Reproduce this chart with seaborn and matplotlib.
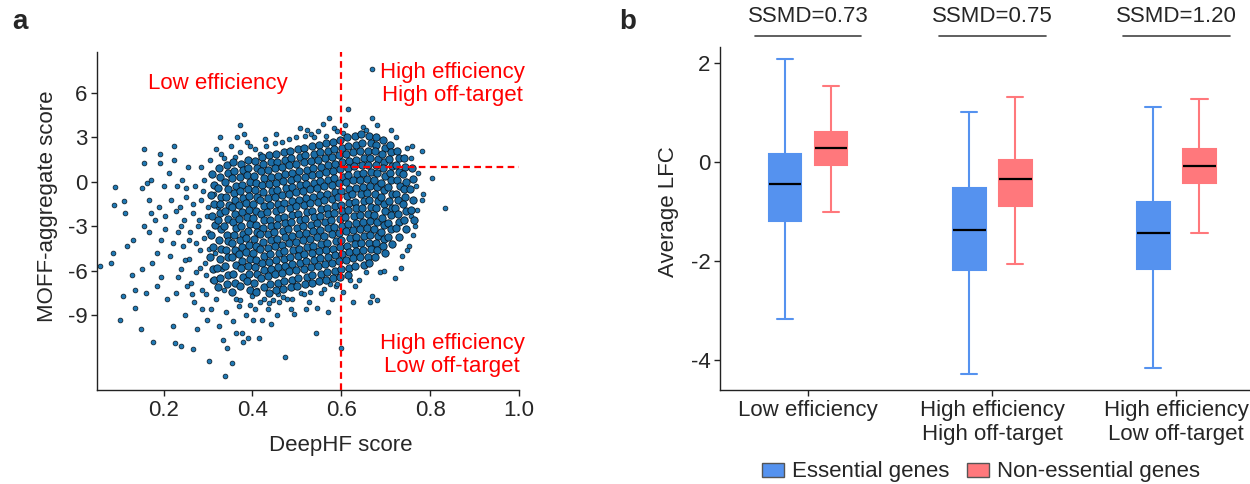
import numpy as np
import pandas as pd
import matplotlib
matplotlib.use("Agg")
import matplotlib.pyplot as plt
import matplotlib.transforms as mtransforms
from matplotlib.patches import Patch
import seaborn as sns

# ---------------- Panel a: scatter ----------------
# sparse outer points
outer_deephf = [
    0.057, 0.081, 0.087, 0.089, 0.091, 0.101, 0.108, 0.111, 0.113, 0.117,
    0.129, 0.131, 0.135, 0.135, 0.148, 0.152, 0.152, 0.155, 0.155, 0.156,
    0.160, 0.163, 0.166, 0.168, 0.171, 0.171, 0.174, 0.177, 0.181, 0.184,
    0.185, 0.190, 0.191, 0.192, 0.194, 0.194, 0.200, 0.202, 0.204, 0.208,
    0.212, 0.215, 0.216, 0.220, 0.223, 0.224, 0.226, 0.227, 0.230, 0.232,
    0.236, 0.239, 0.240, 0.242, 0.244, 0.246, 0.248, 0.250, 0.252, 0.255,
    0.258, 0.260, 0.265, 0.265, 0.269, 0.271, 0.273, 0.275, 0.277, 0.281,
    0.283, 0.285, 0.287, 0.290, 0.293, 0.297, 0.298, 0.301, 0.303, 0.305,
    0.307, 0.310, 0.313, 0.315, 0.319, 0.323, 0.325, 0.327, 0.329, 0.331,
    0.333, 0.335, 0.339, 0.341, 0.343, 0.347, 0.353, 0.357, 0.361, 0.364,
    0.365, 0.369, 0.373, 0.377, 0.379, 0.382, 0.385, 0.390, 0.394, 0.398,
    0.402, 0.406, 0.410, 0.415, 0.418, 0.422, 0.426, 0.430, 0.435, 0.442,
    0.446, 0.450, 0.455, 0.460, 0.466, 0.474, 0.478, 0.482, 0.486, 0.493,
    0.498, 0.506, 0.510, 0.519, 0.521, 0.523, 0.527, 0.531, 0.539, 0.543,
    0.545, 0.547, 0.555, 0.559, 0.565, 0.571, 0.573, 0.579, 0.583, 0.587,
    0.591, 0.599, 0.603, 0.615, 0.609, 0.627, 0.631, 0.648, 0.656, 0.665,
    0.668, 0.669, 0.669, 0.680, 0.680, 0.688, 0.696, 0.712, 0.720, 0.736,
    0.760, 0.781, 0.781, 0.785, 0.805, 0.833, 0.765, 0.773, 0.756, 0.735,
    0.752, 0.771, 0.722, 0.640, 0.604, 0.575, 0.516, 0.468, 0.418, 0.362,
    0.222, 0.228, 0.233, 0.238, 0.247, 0.251, 0.256, 0.262, 0.267, 0.272,
    0.279, 0.282, 0.288, 0.291, 0.295, 0.299, 0.302, 0.296, 0.286, 0.264,
    0.318, 0.336, 0.352, 0.371, 0.388, 0.405, 0.428, 0.452,
    0.372, 0.394, 0.437, 0.458, 0.489, 0.530, 0.560, 0.590, 0.620, 0.655,
    0.748, 0.757, 0.768, 0.762, 0.748,
]
outer_moff = [
    -5.7, -5.5, -4.8, -1.6, -0.36, -9.3, -7.7, -1.3, -2.1, -4.3,
    -6.3, -3.9, -7.3, -8.5, -9.9, -0.4, -5.9, 1.25, 2.2, -3.0,
    -7.5, -0.1, -1.2, -3.4, 0.1, -2.1, -5.5, -10.8, -2.6, -4.8,
    -7.0, -1.7, 1.25, 1.9, -3.9, -6.4, -0.3, -2.3, -3.2, -7.9,
    0.6, -5.0, -1.2, -9.7, 1.5, 2.4, -10.9, -7.5, -0.3, -3.4,
    -1.7, -5.9, -11.1, 0.13, -4.3, -2.6, -9.0, -1.0, -7.0, 1.0,
    -5.2, -3.4, -11.3, -2.1, -8.1, -0.3, -6.1, -9.9, -3.0, -4.6,
    1.0, -1.2, -7.3, 0.13, -5.5, -9.3, -2.3, -3.4, -12.1, 1.5,
    -8.6, -6.6, -0.8, -4.8, -7.9, -1.7, -9.7, 3.05, 1.9, -5.9,
    -10.7, -7.3, -13.1, -8.8, -11.2, 0.6, -12.2, -9.4, 1.7, -10.2,
    3.05, -8.4, 3.8, -10.2, -10.8, 3.2, -9.0, -10.5, 2.4, -7.7,
    -9.3, -8.6, -7.3, -10.5, 1.9, -9.3, -7.9, 2.4, -8.6, -9.6,
    -8.0, 2.6, -9.0, -8.1, 2.7, -11.8, -7.9, 2.9, -8.6, -8.9,
    3.0, 3.6, -7.5, 3.1, -8.6, 3.5, -8.1, 3.2, 3.0, -10.2,
    -8.5, 3.4, -7.5, 3.9, 3.1, -8.8, 4.3, -7.9, 3.6, -7.0,
    3.4, -11.2, 3.3, 4.9, 3.8, -8.1, -7.0, 3.7, 3.5, -8.1,
    -7.7, 4.3, 7.6, -8.0, 3.8, -6.1, -6.0, 3.5, -6.5, -5.0,
    2.4, 2.1, -1.2, -0.8, 0.25, -1.8, -3.0, 0.6, -2.3, -5.8,
    -4.3, -1.9, 3.0, -6.6, -7.4, -6.9, -7.6, -7.8, -8.1, -7.9,
    -4.1, -2.0, -6.4, -3.0, -5.3, -0.4, -3.9, -6.8, -1.5, -4.1,
    -2.6, -5.8, -0.6, -3.8, -6.3, -1.7, -4.5, -7.6, -8.6, -7.6,
    2.2, 1.6, 2.4, 2.0, 2.7, 2.2, 2.9, 3.2,
    -8.0, -8.3, -8.2, -7.6, -7.9, -7.4, -7.2, -6.9, -6.6, -6.1,
    2.3, 1.6, -0.3, -3.6, -4.6,
]
# dense core, column by column
core_deephf = [
    0.310, 0.314, 0.307, 0.313, 0.309, 0.315, 0.306, 0.312, 0.305, 0.311, 0.314,
    0.325, 0.327, 0.323, 0.330, 0.326, 0.328, 0.322, 0.329, 0.324, 0.330, 0.327, 0.321, 0.328, 0.322,
    0.342, 0.346, 0.339, 0.345, 0.341, 0.347, 0.338, 0.344, 0.337, 0.343, 0.346, 0.340, 0.345, 0.338, 0.344, 0.342,
    0.357, 0.359, 0.355, 0.362, 0.358, 0.360, 0.354, 0.361, 0.356, 0.362, 0.359, 0.353, 0.360, 0.354, 0.363, 0.357, 0.361, 0.355,
    0.374, 0.378, 0.371, 0.377, 0.373, 0.379, 0.370, 0.376, 0.369, 0.375, 0.378, 0.372, 0.377, 0.370, 0.376, 0.374, 0.378, 0.371,
    0.389, 0.391, 0.387, 0.394, 0.390, 0.392, 0.386, 0.393, 0.388, 0.394, 0.391, 0.385, 0.392, 0.386, 0.395, 0.389, 0.393, 0.387, 0.394,
    0.406, 0.410, 0.403, 0.409, 0.405, 0.411, 0.402, 0.408, 0.401, 0.407, 0.410, 0.404, 0.409, 0.402, 0.408, 0.406, 0.410, 0.403, 0.407,
    0.421, 0.423, 0.419, 0.426, 0.422, 0.424, 0.418, 0.425, 0.420, 0.426, 0.423, 0.417, 0.424, 0.418, 0.427, 0.421, 0.425, 0.419, 0.426,
    0.438, 0.442, 0.435, 0.441, 0.437, 0.443, 0.434, 0.440, 0.433, 0.439, 0.442, 0.436, 0.441, 0.434, 0.440, 0.438, 0.442, 0.435, 0.439, 0.437,
    0.453, 0.455, 0.451, 0.458, 0.454, 0.456, 0.450, 0.457, 0.452, 0.458, 0.455, 0.449, 0.456, 0.450, 0.459, 0.453, 0.457, 0.451, 0.458, 0.454,
    0.470, 0.474, 0.467, 0.473, 0.469, 0.475, 0.466, 0.472, 0.465, 0.471, 0.474, 0.468, 0.473, 0.466, 0.472, 0.470, 0.474, 0.467, 0.471, 0.469,
    0.485, 0.487, 0.483, 0.490, 0.486, 0.488, 0.482, 0.489, 0.484, 0.490, 0.487, 0.481, 0.488, 0.482, 0.491, 0.485, 0.489, 0.483, 0.490, 0.486,
    0.502, 0.506, 0.499, 0.505, 0.501, 0.507, 0.498, 0.504, 0.497, 0.503, 0.506, 0.500, 0.505, 0.498, 0.504, 0.502, 0.506, 0.499, 0.503, 0.501,
    0.517, 0.519, 0.515, 0.522, 0.518, 0.520, 0.514, 0.521, 0.516, 0.522, 0.519, 0.513, 0.520, 0.514, 0.523, 0.517, 0.521, 0.515, 0.522, 0.518,
    0.534, 0.538, 0.531, 0.537, 0.533, 0.539, 0.530, 0.536, 0.529, 0.535, 0.538, 0.532, 0.537, 0.530, 0.536, 0.534, 0.538, 0.531, 0.535, 0.533,
    0.549, 0.551, 0.547, 0.554, 0.550, 0.552, 0.546, 0.553, 0.548, 0.554, 0.551, 0.545, 0.552, 0.546, 0.555, 0.549, 0.553, 0.547, 0.554, 0.550,
    0.566, 0.570, 0.563, 0.569, 0.565, 0.571, 0.562, 0.568, 0.561, 0.567, 0.570, 0.564, 0.569, 0.562, 0.568, 0.566, 0.570, 0.563, 0.567, 0.565,
    0.581, 0.583, 0.579, 0.586, 0.582, 0.584, 0.578, 0.585, 0.580, 0.586, 0.583, 0.577, 0.584, 0.578, 0.587, 0.581, 0.585, 0.579, 0.586, 0.582,
    0.598, 0.602, 0.595, 0.601, 0.597, 0.603, 0.594, 0.600, 0.593, 0.599, 0.602, 0.596, 0.601, 0.594, 0.600, 0.598, 0.602, 0.595, 0.599, 0.597,
    0.613, 0.615, 0.611, 0.618, 0.614, 0.616, 0.610, 0.617, 0.612, 0.618, 0.615, 0.609, 0.616, 0.610, 0.619, 0.613, 0.617, 0.611, 0.618, 0.614,
    0.630, 0.634, 0.627, 0.633, 0.629, 0.635, 0.626, 0.632, 0.625, 0.631, 0.634, 0.628, 0.633, 0.626, 0.632, 0.630, 0.634, 0.627, 0.631,
    0.645, 0.647, 0.643, 0.650, 0.646, 0.648, 0.642, 0.649, 0.644, 0.650, 0.647, 0.641, 0.648, 0.642, 0.651, 0.645, 0.649, 0.643, 0.650,
    0.662, 0.666, 0.659, 0.665, 0.661, 0.667, 0.658, 0.664, 0.657, 0.663, 0.666, 0.660, 0.665, 0.658, 0.664, 0.662, 0.666, 0.659, 0.663,
    0.677, 0.679, 0.675, 0.682, 0.678, 0.680, 0.674, 0.681, 0.676, 0.682, 0.679, 0.673, 0.680, 0.674, 0.683, 0.677, 0.681, 0.675,
    0.694, 0.698, 0.691, 0.697, 0.693, 0.699, 0.690, 0.696, 0.689, 0.695, 0.698, 0.692, 0.697, 0.690, 0.696, 0.694, 0.698,
    0.709, 0.711, 0.707, 0.714, 0.710, 0.712, 0.706, 0.713, 0.708, 0.714, 0.711, 0.705, 0.712, 0.706, 0.715,
    0.726, 0.730, 0.723, 0.729, 0.725, 0.731, 0.722, 0.728, 0.721, 0.727, 0.730, 0.724, 0.729,
    0.741, 0.743, 0.739, 0.746, 0.742, 0.744, 0.738, 0.745, 0.740, 0.746,
    0.758, 0.762, 0.755, 0.761, 0.757, 0.763,
]
core_moff = [
    0.5, -0.2, -0.9, -1.5, -2.3, -2.9, -3.6, -4.4, -5.1, -5.9, -6.6,
    0.9, 0.3, -0.4, -1.0, -1.5, -2.1, -2.6, -3.2, -3.9, -4.5, -5.2, -5.8, -6.5, -7.1,
    1.1, 0.6, 0.0, -0.5, -1.0, -1.6, -2.0, -2.5, -3.0, -3.6, -4.0, -4.6, -5.1, -5.7, -6.3, -6.9,
    1.3, 0.7, 0.25, -0.3, -0.75, -1.2, -1.7, -2.2, -2.7, -3.15, -3.6, -4.1, -4.6, -5.1, -5.6, -6.2, -6.8, -7.4,
    1.2, 0.8, 0.3, -0.2, -0.65, -1.1, -1.6, -2.05, -2.5, -3.0, -3.5, -3.95, -4.4, -4.9, -5.35, -5.8, -6.4, -7.0,
    1.5, 0.95, 0.45, 0.0, -0.5, -0.95, -1.45, -1.9, -2.4, -2.85, -3.3, -3.8, -4.25, -4.75, -5.2, -5.7, -6.2, -6.7, -7.3,
    1.4, 0.9, 0.4, -0.05, -0.55, -1.0, -1.5, -1.95, -2.45, -2.9, -3.4, -3.85, -4.3, -4.8, -5.25, -5.75, -6.25, -6.8, -7.4,
    1.7, 1.2, 0.7, 0.25, -0.25, -0.7, -1.2, -1.65, -2.15, -2.6, -3.1, -3.55, -4.05, -4.5, -5.0, -5.45, -5.95, -6.5, -7.1,
    1.8, 1.3, 0.8, 0.3, -0.15, -0.65, -1.1, -1.6, -2.05, -2.55, -3.0, -3.5, -3.95, -4.45, -4.9, -5.4, -5.85, -6.35, -6.9, -7.5,
    1.9, 1.35, 0.9, 0.4, -0.05, -0.55, -1.0, -1.5, -1.95, -2.45, -2.9, -3.4, -3.85, -4.35, -4.8, -5.3, -5.75, -6.25, -6.8, -7.3,
    2.0, 1.5, 1.0, 0.5, 0.05, -0.45, -0.9, -1.4, -1.85, -2.35, -2.8, -3.3, -3.75, -4.25, -4.7, -5.2, -5.65, -6.15, -6.7, -7.2,
    2.1, 1.6, 1.1, 0.6, 0.15, -0.35, -0.8, -1.3, -1.75, -2.25, -2.7, -3.2, -3.65, -4.15, -4.6, -5.1, -5.55, -6.05, -6.6, -7.1,
    2.2, 1.7, 1.2, 0.7, 0.25, -0.25, -0.7, -1.2, -1.65, -2.15, -2.6, -3.1, -3.55, -4.05, -4.5, -5.0, -5.45, -5.95, -6.5, -7.0,
    2.3, 1.8, 1.3, 0.8, 0.35, -0.15, -0.6, -1.1, -1.55, -2.05, -2.5, -3.0, -3.45, -3.95, -4.4, -4.9, -5.35, -5.85, -6.4, -6.9,
    2.4, 1.9, 1.4, 0.9, 0.45, -0.05, -0.5, -1.0, -1.45, -1.95, -2.4, -2.9, -3.35, -3.85, -4.3, -4.8, -5.25, -5.75, -6.3, -6.8,
    2.5, 2.0, 1.5, 1.0, 0.55, 0.05, -0.4, -0.9, -1.35, -1.85, -2.3, -2.8, -3.25, -3.75, -4.2, -4.7, -5.15, -5.65, -6.2, -6.7,
    2.6, 2.1, 1.6, 1.1, 0.65, 0.15, -0.3, -0.8, -1.25, -1.75, -2.2, -2.7, -3.15, -3.65, -4.1, -4.6, -5.05, -5.55, -6.1, -6.6,
    2.7, 2.2, 1.7, 1.2, 0.75, 0.25, -0.2, -0.7, -1.15, -1.65, -2.1, -2.6, -3.05, -3.55, -4.0, -4.5, -4.95, -5.45, -6.0, -6.5,
    2.8, 2.3, 1.8, 1.3, 0.85, 0.35, -0.1, -0.6, -1.05, -1.55, -2.0, -2.5, -2.95, -3.45, -3.9, -4.4, -4.85, -5.35, -5.9, -6.4,
    3.0, 2.4, 1.9, 1.4, 0.95, 0.45, 0.0, -0.5, -0.95, -1.45, -1.9, -2.4, -2.85, -3.35, -3.8, -4.3, -4.75, -5.25, -5.8, -6.3,
    3.1, 2.5, 2.0, 1.5, 1.05, 0.55, 0.1, -0.4, -0.85, -1.35, -1.8, -2.3, -2.75, -3.25, -3.7, -4.2, -4.65, -5.15, -5.7,
    3.2, 2.6, 2.1, 1.6, 1.1, 0.6, 0.15, -0.35, -0.8, -1.3, -1.75, -2.25, -2.7, -3.2, -3.65, -4.15, -4.6, -5.1, -5.6,
    3.1, 2.6, 2.1, 1.6, 1.15, 0.65, 0.2, -0.3, -0.75, -1.25, -1.7, -2.2, -2.65, -3.15, -3.6, -4.1, -4.55, -5.05, -5.5,
    3.0, 2.5, 2.05, 1.55, 1.1, 0.6, 0.15, -0.35, -0.8, -1.3, -1.75, -2.25, -2.7, -3.2, -3.65, -4.15, -4.6, -5.1,
    2.8, 2.3, 1.85, 1.35, 0.9, 0.4, -0.05, -0.55, -1.0, -1.5, -1.95, -2.45, -2.9, -3.4, -3.85, -4.35, -4.8,
    2.5, 2.0, 1.55, 1.05, 0.6, 0.1, -0.35, -0.85, -1.3, -1.8, -2.25, -2.75, -3.2, -3.7, -4.2,
    2.1, 1.6, 1.1, 0.65, 0.15, -0.3, -0.8, -1.25, -1.75, -2.2, -2.7, -3.15, -3.7,
    1.6, 1.0, 0.5, 0.0, -0.5, -1.0, -1.5, -2.0, -2.6, -3.2,
    0.9, 0.2, -0.5, -1.2, -1.9, -2.6,
]
assert len(outer_deephf) == len(outer_moff), (len(outer_deephf), len(outer_moff))
assert len(core_deephf) == len(core_moff)

deephf_cutoff = 0.6
moff_cutoff = 1.0
scatter_xticks = [0.2, 0.4, 0.6, 0.8, 1.0]
scatter_yticks = [6, 3, 0, -3, -6, -9]

# ---------------- Panel b: box plots (five-number summaries) ----------------
categories = ["Low efficiency",
              "High efficiency\nHigh off-target",
              "High efficiency\nLow off-target"]
gene_sets = ["Essential genes", "Non-essential genes"]
# lower whisker, Q1, median, Q3, upper whisker
essential_stats = [[-3.17, -1.19, -0.44, 0.16, 2.08],
                   [-4.28, -2.18, -1.38, -0.53, 1.00],
                   [-4.17, -2.16, -1.43, -0.80, 1.11]]
nonessential_stats = [[-1.02, -0.07, 0.28, 0.60, 1.54],
                      [-2.07, -0.89, -0.35, 0.05, 1.32],
                      [-1.44, -0.43, -0.08, 0.27, 1.27]]
ssmd_values = [0.73, 0.75, 1.20]
box_yticks = [2, 0, -2, -4]

colors = {"Essential genes": "#5592EF", "Non-essential genes": "#FF787C"}

# ---------------- style ----------------
sns.set_theme(style="ticks")
plt.rcParams["font.family"] = ["Liberation Sans", "DejaVu Sans"]
plt.rcParams["axes.unicode_minus"] = False
FS = 16
SPINE = "#222222"
POINT = "#1F78B4"
CORE_POINT = "#1A6CA6"
POINT_EDGE = "#08141f"

fig = plt.figure(figsize=(12.5, 4.84), dpi=100)
ax1 = fig.add_axes([0.0776, 0.1942, 0.3376, 0.6984])
ax2 = fig.add_axes([0.576, 0.1942, 0.424, 0.7087])

# ---------------- Panel a ----------------
outer_df = pd.DataFrame({"DeepHF score": outer_deephf,
                         "MOFF-aggregate score": outer_moff})
core_df = pd.DataFrame({"DeepHF score": core_deephf,
                        "MOFF-aggregate score": core_moff})
sns.scatterplot(data=outer_df, x="DeepHF score", y="MOFF-aggregate score",
                s=12, color=POINT, edgecolor=POINT_EDGE, linewidth=0.5,
                ax=ax1, legend=False, zorder=2)
sns.scatterplot(data=core_df, x="DeepHF score", y="MOFF-aggregate score",
                s=28, color=CORE_POINT, edgecolor=POINT_EDGE, linewidth=0.6,
                ax=ax1, legend=False, zorder=2)
ax1.axvline(deephf_cutoff, color="red", lw=1.6, ls=(0, (3, 2)), zorder=3)
ax1.hlines(moff_cutoff, deephf_cutoff, 1.0, color="red", lw=1.6,
           linestyles=[(0, (3, 2))], zorder=3)
ax1.set_xlim(0.05, 1.0)
ax1.set_ylim(-14.04, 8.75)
ax1.set_xticks(scatter_xticks)
ax1.set_xticklabels([f"{v:.1f}" for v in scatter_xticks])
ax1.set_yticks(scatter_yticks)
ax1.set_yticklabels([str(v) for v in scatter_yticks])
ax1.text(0.323, 6.65, "Low efficiency", color="red", fontsize=FS,
         ha="center", va="center")
ax1.text(0.85, 6.6, "High efficiency\nHigh off-target", color="red",
         fontsize=FS, ha="center", va="center", linespacing=1.15)
ax1.text(0.85, -11.7, "High efficiency\nLow off-target", color="red",
         fontsize=FS, ha="center", va="center", linespacing=1.15)
ax1.set_xlabel("DeepHF score", fontsize=FS)
ax1.set_ylabel("MOFF-aggregate score", fontsize=FS)
ax1.xaxis.set_label_coords(0.578, -0.165)
ax1.xaxis.label.set_verticalalignment("center")
ax1.yaxis.set_label_coords(-0.118, 0.543)
ax1.yaxis.label.set_verticalalignment("center")

# ---------------- Panel b ----------------
rows = []
for cat, es, ns in zip(categories, essential_stats, nonessential_stats):
    rows += [(cat, gene_sets[0], v) for v in es]
    rows += [(cat, gene_sets[1], v) for v in ns]
box_df = pd.DataFrame(rows, columns=["group", "genes", "lfc"])

sns.boxplot(data=box_df, x="group", y="lfc", hue="genes",
            order=categories, hue_order=gene_sets, palette=colors,
            saturation=1, width=0.5, gap=0.29, whis=(0, 100),
            showfliers=False, linewidth=1.5,
            medianprops=dict(color="black", linewidth=1.6),
            legend=False, ax=ax2)
for cont, gs in zip(ax2.containers, gene_sets):
    c = colors[gs]
    for b in cont.boxes:
        b.set_edgecolor(c)
    for ln in list(cont.whiskers) + list(cont.caps):
        ln.set_color(c)

ax2.set_xlim(-0.478, 2.40)
ax2.set_ylim(-4.606, 2.323)
ax2.set_yticks(box_yticks)
ax2.set_yticklabels([str(v) for v in box_yticks])
ax2.set_xlabel("")
ax2.set_ylabel("Average LFC", fontsize=FS)
ax2.yaxis.set_label_coords(-0.098, 0.519)
ax2.yaxis.label.set_verticalalignment("center")

blend = mtransforms.blended_transform_factory(ax2.transData, ax2.transAxes)
for i, v in enumerate(ssmd_values):
    ax2.text(i, 1.09, f"SSMD={v:.2f}", transform=blend, ha="center",
             va="center", fontsize=FS, clip_on=False)
    ax2.plot([i - 0.29, i + 0.29], [1.032, 1.032], transform=blend,
             color="#444444", lw=1.2, clip_on=False)

handles = [Patch(facecolor=colors[g], edgecolor="#555555", lw=1.0, label=g)
           for g in gene_sets]
fig.legend(handles=handles, loc="center", bbox_to_anchor=(981 / 1250, 1 - 472 / 484),
           ncol=2, frameon=False, fontsize=FS, handlelength=1.0,
           handleheight=0.6, handletextpad=0.35, columnspacing=0.8,
           borderaxespad=0, borderpad=0)

for ax in (ax1, ax2):
    sns.despine(ax=ax)
    for sp in ("left", "bottom"):
        ax.spines[sp].set_color(SPINE)
        ax.spines[sp].set_linewidth(1.0)
    ax.tick_params(axis="both", labelsize=FS, length=4, width=1.0,
                   color=SPINE, pad=3)

fig.text(20 / 1250, 1 - 22 / 484, "a", fontsize=20, fontweight="bold",
         ha="center", va="center")
fig.text(628 / 1250, 1 - 22 / 484, "b", fontsize=20, fontweight="bold",
         ha="center", va="center")

fig.savefig("out.png", dpi=100)
